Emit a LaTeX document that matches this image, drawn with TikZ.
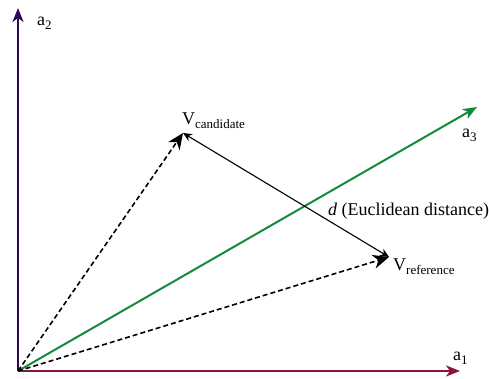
\documentclass[tikz,border=0pt]{standalone}
\usepackage{fontspec}
\setmainfont{Liberation Serif}
\usetikzlibrary{arrows.meta}
\definecolor{axpurple}{HTML}{2E0854}
\definecolor{axred}{HTML}{8B1538}
\definecolor{axgreen}{HTML}{138A3C}
\newcommand{\mysub}[1]{\raisebox{-4pt}{\fontsize{13}{15}\selectfont #1}}
\begin{document}
\begin{tikzpicture}[x=1pt,y=-1pt,
  axis/.style={line width=2pt,-{Stealth[length=14pt,width=11pt,inset=4pt]}},
  vec/.style={line width=1.6pt,dash pattern=on 5pt off 3pt,-{Stealth[length=16pt,width=14pt,inset=5pt]}},
  dist/.style={line width=1.1pt,{Stealth[length=9pt,width=8pt,inset=3pt]}-{Stealth[length=9pt,width=8pt,inset=3pt]}},
  lbl/.style={font=\fontsize{18}{20}\selectfont,inner sep=0pt}]
\useasboundingbox (0,0) rectangle (489,379);
\coordinate (O) at (18,371);
\coordinate (A1) at (460,371);
\coordinate (A2) at (18,8);
\coordinate (A3) at (477,107);
\coordinate (VC) at (183,133);
\coordinate (VR) at (389,257);
\draw[axis,axred] (O) -- (A1);
\draw[axis,axpurple] (O) -- (A2);
\draw[axis,axgreen] (O) -- (A3);
\draw[vec] (O) -- (VC);
\draw[vec] (O) -- (VR);
\draw[dist] (VC) -- (VR);
\node[lbl,anchor=base west] (l1) at (453,360) {a\mysub{1}};
\node[lbl,anchor=base west] (l2) at (37,26) {a\mysub{2}};
\node[lbl,anchor=base west] (l3) at (462,138) {a\mysub{3}};
\node[lbl,anchor=base west] (lc) at (182,125) {V\mysub{candidate}};
\node[lbl,anchor=base west] (lr) at (393,270) {V\mysub{reference}};
\node[lbl,anchor=base west] (ld) at (328,215) {\textit{d} (Euclidean distance)};
\end{tikzpicture}
\end{document}
